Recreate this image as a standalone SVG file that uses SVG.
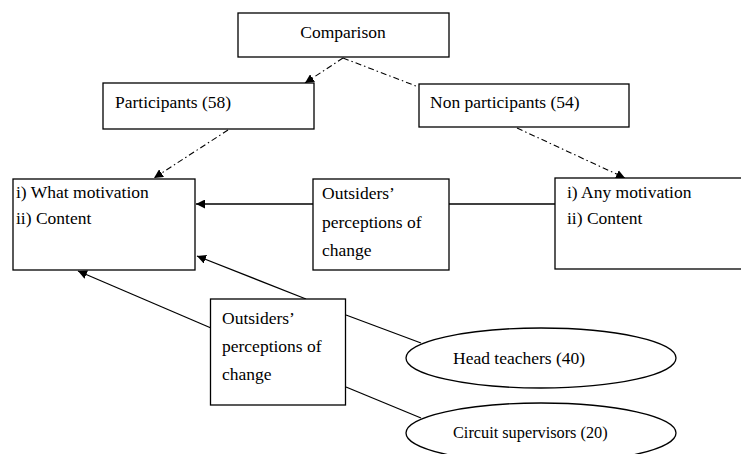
<svg xmlns="http://www.w3.org/2000/svg" width="741" height="454" viewBox="0 0 741 454">
<style>
.box{fill:#fff;stroke:#000;stroke-width:1.3}
.t{font-size:17.5px;fill:#000}
.dd{fill:none;stroke:#000;stroke-width:1.1;stroke-dasharray:6 3 1.5 3}
.sl{fill:none;stroke:#000;stroke-width:1.3}
</style>
<defs>
<marker id="ah" viewBox="0 0 10 10" refX="10" refY="5" markerWidth="9" markerHeight="9" markerUnits="userSpaceOnUse" orient="auto">
<path d="M0,0 L10,5 L0,10 z" fill="#000"/>
</marker>
</defs>
<rect width="741" height="454" fill="#fff"/>
<g id="connectors">
<line class="dd" x1="343" y1="58" x2="305" y2="83" marker-end="url(#ah)"/>
<line class="dd" x1="343" y1="58" x2="416" y2="86"/>
<line class="dd" x1="228" y1="130" x2="154" y2="178" marker-end="url(#ah)"/>
<line class="dd" x1="517" y1="128" x2="625" y2="178" marker-end="url(#ah)"/>
<line class="sl" x1="313" y1="204" x2="196" y2="204" marker-end="url(#ah)"/>
<line class="sl" x1="449" y1="204" x2="555" y2="204"/>
<line class="sl" x1="306" y1="299" x2="197" y2="256" marker-end="url(#ah)"/>
<line class="sl" x1="211" y1="328" x2="78" y2="271" marker-end="url(#ah)"/>
<line class="sl" x1="346" y1="315" x2="421" y2="343"/>
<line class="sl" x1="346" y1="387" x2="421" y2="418"/>
</g>
<g font-family="Liberation Serif, DejaVu Serif, Noto Serif, Times New Roman, Times, serif">
<g id="comparison">
<rect class="box" x="238" y="13" width="211" height="44"/>
<text class="t" x="343" y="38" text-anchor="middle">Comparison</text>
</g>
<g id="participants">
<rect class="box" x="103" y="83" width="211" height="46"/>
<text class="t" x="115" y="108">Participants (58)</text>
</g>
<g id="nonparticipants">
<rect class="box" x="419" y="84" width="210" height="43"/>
<text class="t" x="430" y="108">Non participants (54)</text>
</g>
<g id="leftbox">
<rect class="box" x="13" y="179" width="182" height="91"/>
<text class="t" x="16" y="198">i) What motivation</text>
<text class="t" x="16" y="224">ii) Content</text>
</g>
<g id="outsiders1">
<rect class="box" x="313" y="179" width="136" height="91"/>
<text class="t" x="322" y="199">Outsiders’</text>
<text class="t" x="322" y="228">perceptions of</text>
<text class="t" x="322" y="256">change</text>
</g>
<g id="rightbox">
<rect class="box" x="555" y="178" width="192" height="91"/>
<text class="t" x="567" y="198">i) Any motivation</text>
<text class="t" x="567" y="224">ii) Content</text>
</g>
<g id="outsiders2">
<rect class="box" x="210.5" y="299" width="135" height="106"/>
<text class="t" x="222" y="324">Outsiders’</text>
<text class="t" x="222" y="352">perceptions of</text>
<text class="t" x="222" y="380">change</text>
</g>
<g id="headteachers">
<ellipse class="box" cx="541" cy="358" rx="135" ry="30"/>
<text class="t" x="453" y="364">Head teachers (40)</text>
</g>
<g id="circuitsupervisors">
<ellipse class="box" cx="541" cy="433" rx="135" ry="30"/>
<text class="t" x="453" y="438" style="font-size:16.3px">Circuit supervisors (20)</text>
</g>
</g>
</svg>
